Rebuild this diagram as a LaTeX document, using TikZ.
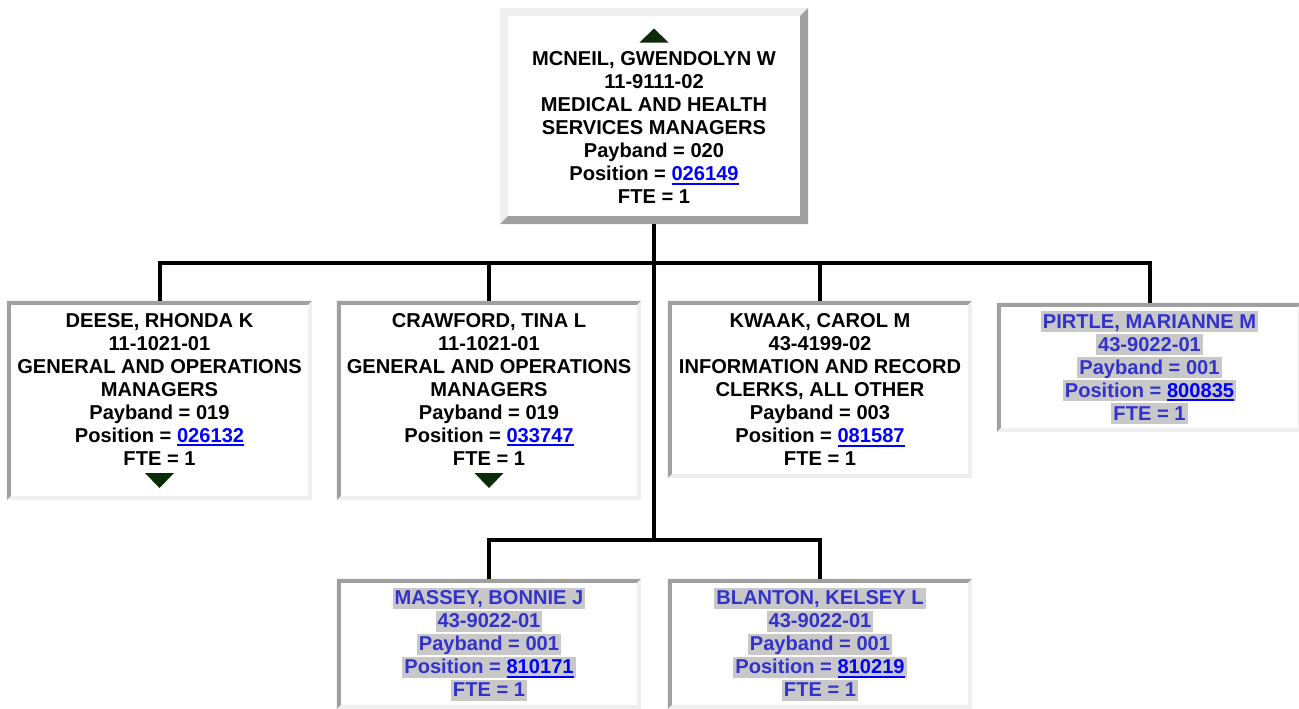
\documentclass[tikz,border=0pt]{standalone}
\usepackage{fontspec}
\setmainfont{Liberation Sans}
\usepackage{xcolor}
\usepackage{tikz}
\usetikzlibrary{calc}

\definecolor{bevdark}{HTML}{A0A0A0}
\definecolor{bevlight}{HTML}{EFEFEF}
\definecolor{hlgray}{HTML}{C8C8C8}
\definecolor{vacblue}{HTML}{3333CC}
\definecolor{linkblue}{HTML}{0000FF}
\definecolor{tipgreen}{HTML}{0B2B0B}

\newcommand\poslink[1]{\textcolor{linkblue}{\setbox0\hbox{#1}\rlap{\rule[-4pt]{\wd0}{2pt}}\box0}}
\newcommand\vacline[1]{{\fboxsep=0pt\colorbox{hlgray}{\rule[-4pt]{0pt}{21pt}\hspace{2pt}#1\hspace{2pt}}}}
\newcommand\uptip{\tikz\fill[tipgreen] (0pt,0pt) -- (29pt,0pt) -- (14.5pt,14pt) -- cycle;}
\newcommand\downtip{\tikz\fill[tipgreen] (0pt,15pt) -- (29pt,15pt) -- (14.5pt,0pt) -- cycle;}
% bevelled frame inside a node: node, border, top-left colour, bottom-right colour
\newcommand\bevel[4]{%
  \fill[#3] (#1.south west) -- (#1.north west) -- (#1.north east)
    -- ($(#1.north east)+(-#2pt,-#2pt)$) -- ($(#1.north west)+(#2pt,-#2pt)$)
    -- ($(#1.south west)+(#2pt,#2pt)$) -- cycle;
  \fill[#4] (#1.south west) -- (#1.south east) -- (#1.north east)
    -- ($(#1.north east)+(-#2pt,-#2pt)$) -- ($(#1.south east)+(-#2pt,#2pt)$)
    -- ($(#1.south west)+(#2pt,#2pt)$) -- cycle;}

\begin{document}
\begin{tikzpicture}[
    x=1pt,y=-1pt,
    orgbox/.style={fill=white, inner sep=0pt, align=center, font=\fontsize{20.1}{23}\selectfont\bfseries},
    vacbox/.style={orgbox, text=vacblue},
    link/.style={draw=black, line width=4pt, line join=miter}
  ]
    \useasboundingbox (0,0) rectangle (1299,709);

    \node[orgbox, minimum width=308pt, minimum height=216pt] (boss) at (654,116)
      {\uptip\\MCNEIL, GWENDOLYN W\\11-9111-02\\MEDICAL AND HEALTH\\SERVICES MANAGERS\\Payband = 020\\Position = \poslink{026149}\\FTE = 1};
    \bevel{boss}{8}{bevlight}{bevdark}

    \node[orgbox, minimum width=305pt, minimum height=199pt] (deese) at (159.5,400.5)
      {DEESE, RHONDA K\\11-1021-01\\GENERAL AND OPERATIONS\\MANAGERS\\Payband = 019\\Position = \poslink{026132}\\FTE = 1\\\downtip};
    \node[orgbox, minimum width=304pt, minimum height=199pt] (crawford) at (489,400.5)
      {CRAWFORD, TINA L\\11-1021-01\\GENERAL AND OPERATIONS\\MANAGERS\\Payband = 019\\Position = \poslink{033747}\\FTE = 1\\\downtip};
    \node[orgbox, minimum width=304pt, minimum height=177pt] (kwaak) at (820,389.5)
      {KWAAK, CAROL M\\43-4199-02\\INFORMATION AND RECORD\\CLERKS, ALL OTHER\\Payband = 003\\Position = \poslink{081587}\\FTE = 1};
    \node[vacbox, minimum width=305pt, minimum height=129pt] (pirtle) at (1149.5,367.5)
      {\vacline{PIRTLE, MARIANNE M}\\\vacline{43-9022-01}\\\vacline{Payband = 001}\\\vacline{Position = \poslink{800835}}\\\vacline{FTE = 1}};
    \node[vacbox, minimum width=304pt, minimum height=130pt] (massey) at (489,644)
      {\vacline{MASSEY, BONNIE J}\\\vacline{43-9022-01}\\\vacline{Payband = 001}\\\vacline{Position = \poslink{810171}}\\\vacline{FTE = 1}};
    \node[vacbox, minimum width=304pt, minimum height=130pt] (blanton) at (820,644)
      {\vacline{BLANTON, KELSEY L}\\\vacline{43-9022-01}\\\vacline{Payband = 001}\\\vacline{Position = \poslink{810219}}\\\vacline{FTE = 1}};
    \foreach \n in {deese,crawford,kwaak,pirtle,massey,blanton}
      {\bevel{\n}{4}{bevdark}{bevlight}}

    \coordinate (upperbar) at (654,263);
    \coordinate (lowerbar) at (654,540);
    \draw[link] (boss.south) -- (lowerbar);
    \draw[link] (deese.north) |- (upperbar) -| (pirtle.north);
    \draw[link] (crawford.north) -- (crawford.north |- upperbar);
    \draw[link] (kwaak.north) -- (kwaak.north |- upperbar);
    \draw[link] (massey.north) |- (lowerbar) -| (blanton.north);
  \end{tikzpicture}
\end{document}
